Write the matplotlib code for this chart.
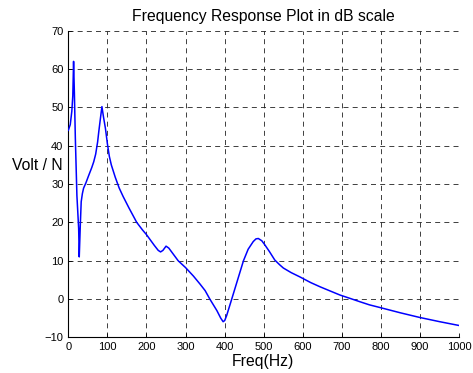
import numpy as np
import matplotlib
matplotlib.use("Agg")
import matplotlib.pyplot as plt

# frequency response (Hz, dB)
freq = [0, 5, 9, 11.5, 13.5, 15.5, 18, 22, 26.5, 28, 30.7, 33, 36, 39, 45, 52, 60,
        65, 70, 75, 78, 82, 86, 90, 95, 100, 105, 110, 120, 130, 140, 155, 175,
        190, 200, 210, 220, 230, 236, 242, 250, 257, 265, 281, 300, 320, 337,
        350, 362, 380, 390, 396, 400, 405, 418, 448, 460, 473, 480, 486, 495,
        503, 515, 528, 540, 550, 570, 592, 620, 644, 670, 695, 720, 746, 770,
        797, 850, 899, 950, 1000]
mag_db = [44, 45.5, 49, 53, 62, 54, 42, 27, 18.4, 11, 19.3, 25.4, 27.5, 28.9, 30.3,
          32.2, 34.3, 35.8, 37.8, 41, 43.7, 47, 50.2, 47.5, 44.5, 40.5, 37.2, 35,
          31.8, 29, 26.8, 23.8, 20, 18, 16.8, 15.4, 14, 12.7, 12.3, 12.7, 13.8,
          13.3, 12.2, 10, 8.2, 6.0, 3.9, 2.2, 0, -3, -5, -5.9, -5.6, -4.3, 0, 10,
          13, 15, 15.7, 15.8, 15.2, 14.1, 12.3, 10.2, 9, 8.1, 6.9, 5.8, 4.3, 3.2,
          2.1, 1.05, 0.2, -0.7, -1.5, -2.2, -3.6, -4.8, -5.9, -6.9]

xticks = [0, 100, 200, 300, 400, 500, 600, 700, 800, 900, 1000]
yticks = [-10, 0, 10, 20, 30, 40, 50, 60, 70]

plt.rcParams['font.family'] = ['Liberation Sans', 'DejaVu Sans']

fig = plt.figure(figsize=(4.73, 3.73), dpi=100)
ax = fig.add_axes([0.1444, 0.0954, 0.8266, 0.8223])

ax.plot(freq, mag_db, color=(0, 0, 1), lw=1.1, zorder=3)

ax.set_xlim(0, 1000)
ax.set_ylim(-10, 70)
ax.set_xticks(xticks)
ax.set_yticks(yticks)

# matlab look: grid dashed, box off
ax.grid(True, color='#202020', lw=0.6, linestyle=(0, (6, 5)))
ax.spines['top'].set_visible(False)
ax.spines['right'].set_visible(False)
for s in ['left', 'bottom']:
    ax.spines[s].set_linewidth(0.8)
ax.tick_params(direction='in', length=3, width=0.6, labelsize=8, pad=3.5)

ax.set_title('Frequency Response Plot in dB scale', fontsize=11.3, pad=7)
ax.set_xlabel('Freq(Hz)', fontsize=11.3, va='baseline')
ax.xaxis.set_label_coords(0.498, -0.0923)
ax.set_ylabel('Volt / N', fontsize=11.3, rotation=0, ha='right', va='center')
ax.yaxis.set_label_coords(-0.014, 0.561)

fig.savefig('out.png', dpi=100)
